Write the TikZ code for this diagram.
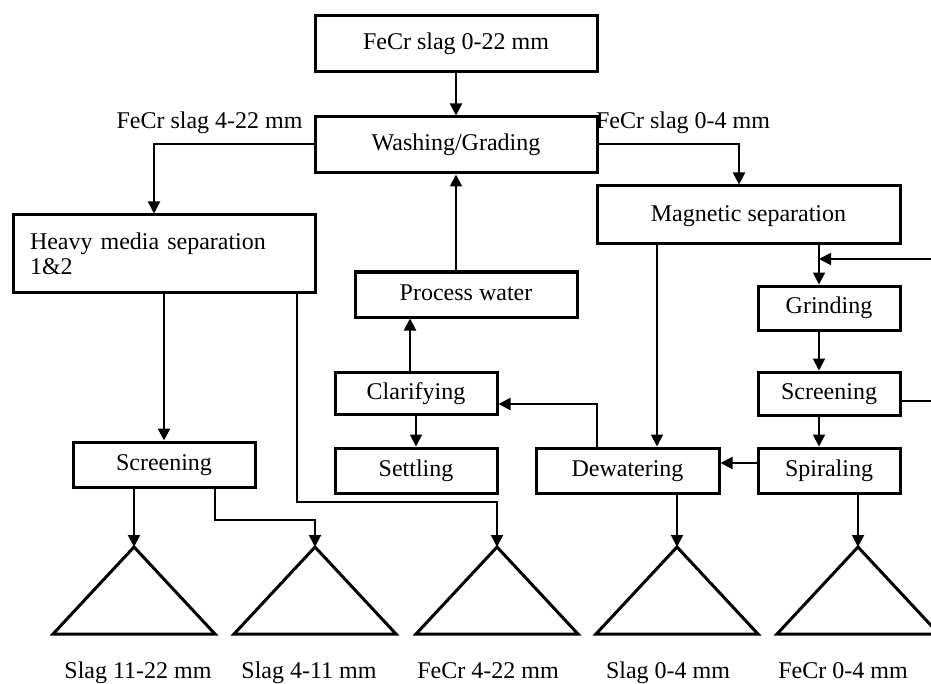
\documentclass[tikz,border=0pt]{standalone}
\usepackage{fontspec}
\setmainfont{Liberation Serif}
\usetikzlibrary{arrows.meta}
\pgfdeclarelayer{bg}
\pgfsetlayers{bg,main}
\tikzset{
    frame/.style={rectangle, draw, line width=1.5pt, inner sep=0pt, font=\fontsize{12}{12.5}\selectfont},
    box/.style={frame, text height=8.5pt, text depth=2.5pt},
    txt/.style={inner sep=0pt, text height=8.5pt, text depth=2.5pt, font=\fontsize{12}{12.5}\selectfont},
    arr/.style={-{Triangle[length=6pt,width=6pt]}, line width=1pt},
    heap/.style={line width=1.5pt}
}

\begin{document}
\begin{tikzpicture}[x=0.5pt, y=-0.5pt]
    \clip (0,0) rectangle (931,684);

    \node (top) [box, minimum width=141pt, minimum height=28pt] at (456,44) {FeCr slag 0-22 mm};
    \node (wash) [box, minimum width=141pt, minimum height=28pt] at (456,145) {Washing/Grading};
    \node (hms) [frame, minimum width=151pt, minimum height=38.5pt, text width=134pt, align=left] at (164,253.5) {Heavy media separation\\1\&2};
    \node (mag) [box, minimum width=151.5pt, minimum height=29pt] at (748.5,215) {Magnetic separation};
    \node (pw) [box, minimum width=111pt, minimum height=22.5pt] at (466,294.5) {Process water};
    \node (grind) [box, minimum width=71pt, minimum height=22pt] at (829,308) {Grinding};
    \node (scrb) [box, minimum width=71pt, minimum height=21.5pt] at (829,393.5) {Screening};
    \node (spir) [box, minimum width=71pt, minimum height=22.5pt] at (829,470.5) {Spiraling};
    \node (dew) [box, minimum width=91.5pt, minimum height=22.5pt] at (627.5,470.5) {Dewatering};
    \node (clar) [box, minimum width=81pt, minimum height=21pt] at (416,393) {Clarifying};
    \node (settle) [box, minimum width=81pt, minimum height=22.5pt] at (416,470.5) {Settling};
    \node (scra) [box, minimum width=91pt, minimum height=22.5pt] at (164,464.5) {Screening};

    % stream labels
    \node (coarse) [txt] at (209.5,123) {FeCr slag 4-22 mm};
    \node (fine) [txt] at (683,123) {FeCr slag 0-4 mm};

    % product heaps
    \coordinate (h1) at (134,547);
    \coordinate (h2) at (315,547);
    \coordinate (h3) at (497,547);
    \coordinate (h4) at (677,547);
    \coordinate (h5) at (858,547);
    \draw[heap] (h1) -- ++(81,87) -- ++(-162,0) -- cycle;
    \draw[heap] (h2) -- ++(81,87) -- ++(-162,0) -- cycle;
    \draw[heap] (h3) -- ++(81,87) -- ++(-162,0) -- cycle;
    \draw[heap] (h4) -- ++(81,87) -- ++(-162,0) -- cycle;
    \draw[heap] (h5) -- ++(81,87) -- ++(-162,0) -- cycle;

    \node (p1) [txt] at (138,672) {Slag 11-22 mm};
    \node (p2) [txt] at (309,672) {Slag 4-11 mm};
    \node (p3) [txt] at (488,672) {FeCr 4-22 mm};
    \node (p4) [txt] at (668,672) {Slag 0-4 mm};
    \node (p5) [txt] at (843,672) {FeCr 0-4 mm};

    % return loop from screening
    \coordinate (ret) at (945,259);
    \coordinate (merge) at (819,259);

    \begin{pgfonlayer}{bg}
        \draw[arr] (top) -- (wash);
        \draw[arr] (wash.west |- 0,144) -| (154,0 |- hms.north);
        \draw[arr] (wash.east |- 0,144) -| (739,0 |- mag.north);
        \draw[arr] (pw.north -| wash.south) -- (wash.south);
        \draw[arr] (410,0 |- clar.north) -- (410,0 |- pw.south);
        \draw[arr] (clar) -- (settle);
        \draw[arr] (597,0 |- dew.north) |- (clar.east |- 0,404);
        \draw[arr] (spir.west |- 0,463) -- (dew.east |- 0,463);
        \draw[arr] (657,0 |- mag.south) -- (657,0 |- dew.north);

        \draw[arr] (819,0 |- mag.south) -- (819,0 |- grind.north);
        \draw[arr] (819,0 |- grind.south) -- (819,0 |- scrb.north);
        \draw[arr] (819,0 |- scrb.south) -- (819,0 |- spir.north);
        \draw[arr] (scrb.east |- 0,401) -- (ret |- 0,401) -- (ret) -- (merge);

        \draw[arr] (hms.south) -- (scra.north);
        \draw[arr] (297,0 |- hms.south) |- (h3 |- 0,502) -- (h3);
        \draw[arr] (scra.south -| h1) -- (h1);
        \draw[arr] (215,0 |- scra.south) |- (h2 |- 0,520) -- (h2);
        \draw[arr] (dew.south -| h4) -- (h4);
        \draw[arr] (spir.south -| h5) -- (h5);
    \end{pgfonlayer}
\end{tikzpicture}
\end{document}
